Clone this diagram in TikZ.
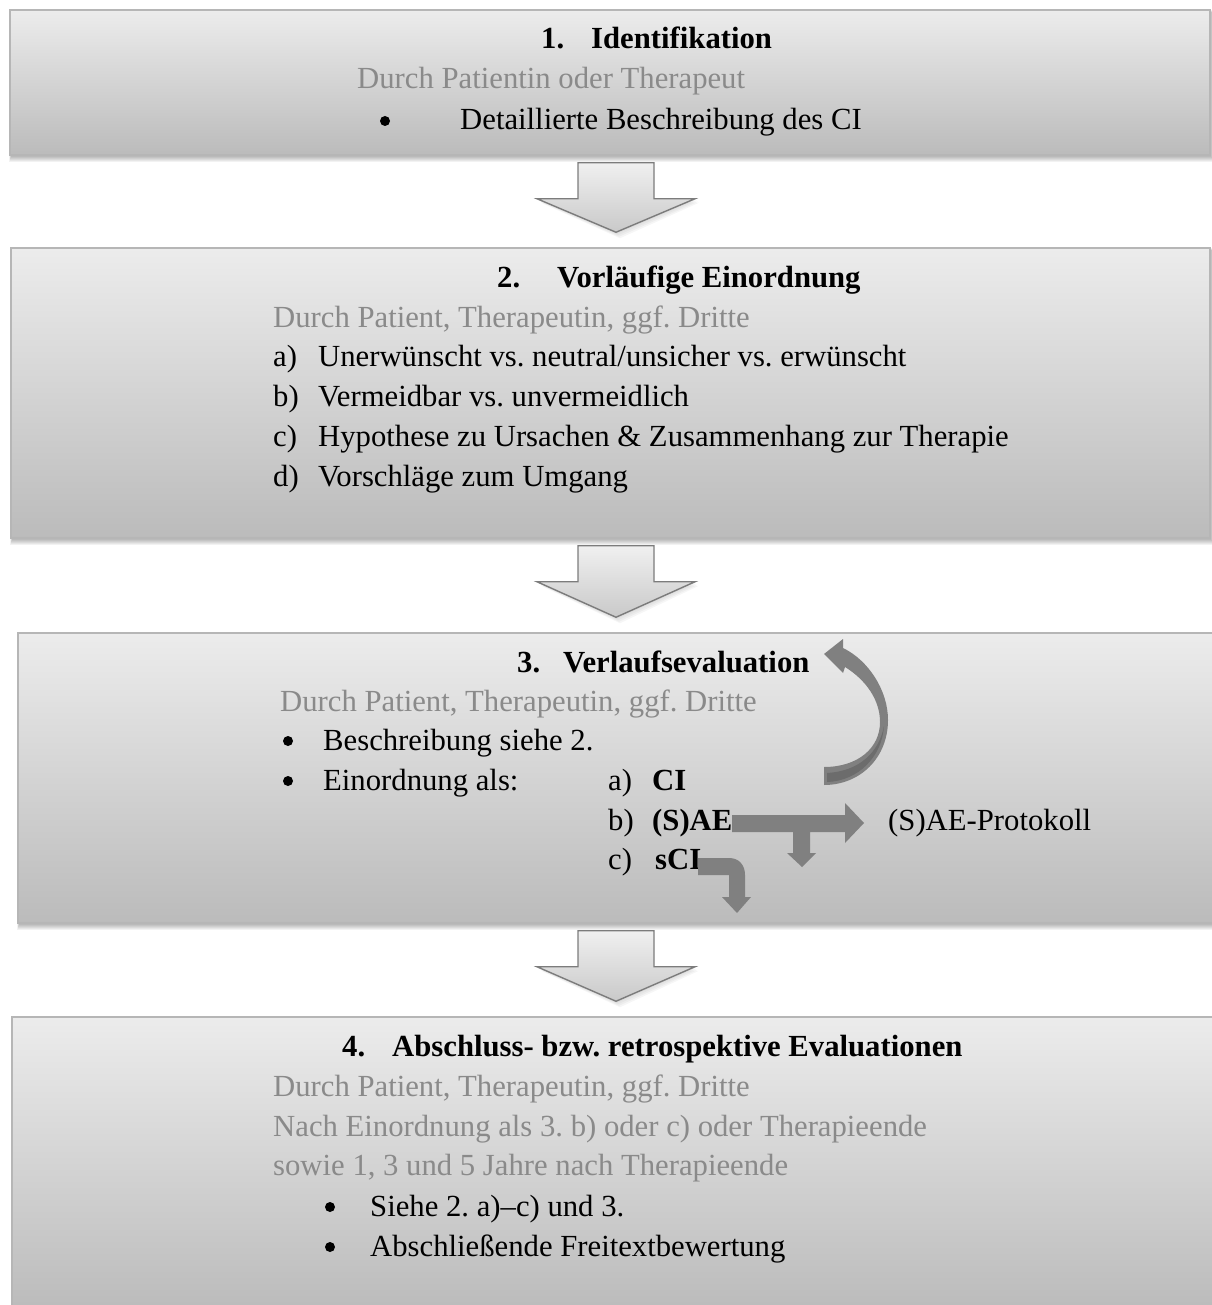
\documentclass[tikz,border=0pt]{standalone}
\usepackage{fontspec}
\setmainfont{Liberation Serif}
\usetikzlibrary{calc,backgrounds}
\frenchspacing

\definecolor{boxtop}{HTML}{ECECEC}
\definecolor{boxbot}{HTML}{BBBBBB}
\definecolor{boxline}{HTML}{B6B6B6}
\definecolor{greytext}{HTML}{8A8A8A}
\definecolor{flowfill}{HTML}{808080}
\definecolor{flowdark}{HTML}{6C6C6C}
\definecolor{stagetop}{HTML}{F0F0F0}
\definecolor{stagebot}{HTML}{C9C9C9}
\definecolor{stageline}{HTML}{7C7C7C}

% soft shadow under a stage box
\newcommand\boxshadow[1]{%
  \foreach \d in {1,...,6}{%
    \fill[black,opacity=0.05] ($(#1.north west)+(2-0.3*\d,0.5*\d)$) rectangle ($(#1.south east)+(0.45*\d,\d)$);}}

% block arrow leading from one stage box to the next
\newcommand\stagearrow[2]{%
  \path[stagearrow] let \p1=(#1.south), \p2=(#2.north) in
    (578pt,{\y1-7pt}) -- (654pt,{\y1-7pt}) -- (654pt,{\y1-43pt}) -- (695pt,{\y1-43pt})
    -- (616pt,{\y2+15pt}) -- (537pt,{\y1-43pt}) -- (578pt,{\y1-43pt}) -- cycle;
  \begin{scope}[on background layer]
  \foreach \d in {1,...,4}{%
    \fill[black,opacity=0.035] let \p1=(#1.south), \p2=(#2.north) in
      ({537pt+\d pt},{\y1-43pt-\d pt}) -- ({695pt+\d pt},{\y1-43pt-\d pt}) -- ({616pt+\d pt},{\y2+15pt-1.5*\d pt}) -- cycle;}
  \end{scope}}

\begin{document}
\begin{tikzpicture}[x=1pt,y=-1pt,
  stagebox/.style={draw=boxline, line width=1.5pt, top color=boxtop, bottom color=boxbot,
    rectangle, inner sep=0pt},
  stagearrow/.style={draw=stageline, line width=1.4pt, line join=miter,
    top color=stagetop, bottom color=stagebot},
  txt/.style={anchor=base west, inner sep=0pt, font=\fontsize{30.7}{40}\selectfont},
  title/.style={txt, font=\fontsize{30.7}{40}\selectfont\bfseries},
  grey/.style={txt, text=greytext},
  dot/.style={circle, fill=black, inner sep=0pt, minimum size=10pt},
  flow/.style={fill=flowfill, draw=none}]

\useasboundingbox (0,0) rectangle (1211,1305);

% ---- stage boxes
\node[stagebox, minimum width=1200pt, minimum height=145pt] (b1) at (610,82.5) {};
\node[stagebox, minimum width=1199pt, minimum height=290pt] (b2) at (610.5,393) {};
\node[stagebox, minimum width=1198pt, minimum height=290pt] (b3) at (617,778) {};
\node[stagebox, minimum width=1204pt, minimum height=293pt] (b4) at (614,1163.5) {};

\begin{scope}[on background layer]
  \boxshadow{b1}
  \boxshadow{b2}
  \boxshadow{b3}
  \boxshadow{b4}
\end{scope}

% ---- arrows between the stages
\stagearrow{b1}{b2}
\stagearrow{b2}{b3}
\stagearrow{b3}{b4}

% ---- stage 1
\node[title] (n1) at (541,49) {1.};
\node[title] (h1) at (591,49) {Identifikation};
\node[grey] (w1) at (357,89) {Durch Patientin oder Therapeut};
\node[dot] (d11) at (385,121) {};
\node[txt] (i11) at (460,130) {Detaillierte Beschreibung des CI};

% ---- stage 2
\node[title] (n2) at (497,288) {2.};
\node[title] (h2) at (557,288) {Vorläufige Einordnung};
\node[grey] (w2) at (273,327) {Durch Patient, Therapeutin, ggf. Dritte};
\node[txt] (k21) at (273,366) {a)};
\node[txt] (i21) at (318,366) {Unerwünscht vs. neutral/unsicher vs. erwünscht};
\node[txt] (k22) at (273,406) {b)};
\node[txt] (i22) at (318,406) {Vermeidbar vs. unvermeidlich};
\node[txt] (k23) at (273,446) {c)};
\node[txt] (i23) at (318,446) {Hypothese zu Ursachen \& Zusammenhang zur Therapie};
\node[txt] (k24) at (273,486) {d)};
\node[txt] (i24) at (318,486) {Vorschläge zum Umgang};

% ---- stage 3
\node[title] (n3) at (517,672) {3.};
\node[title] (h3) at (563,672) {Verlaufsevaluation};
\node[grey] (w3) at (280,711) {Durch Patient, Therapeutin, ggf. Dritte};
\node[dot] (d31) at (288,741) {};
\node[txt] (i31) at (323,750) {Beschreibung siehe 2.};
\node[dot] (d32) at (288,781) {};
\node[txt] (i32) at (323,790) {Einordnung als:};
\node[txt] (k31) at (608,790) {a)};
\node[title] (c31) at (652,790) {CI};
\node[txt] (k32) at (608,830) {b)};
\node[title] (c32) at (652,830) {(S)AE};
\node[txt] (k33) at (608,869) {c)};
\node[title] (c33) at (655,869) {sCI};
\node[txt] (prot) at (888,830) {(S)AE-Protokoll};

% loop back from CI to the evaluation
\fill[flowfill] (824,785) .. controls (860,785) and (888,758) .. (888,720)
  .. controls (888,690) and (868,660) .. (843,648) -- (843,639) -- (824,654) -- (843,673)
  -- (845,667) .. controls (866,680) and (880,700) .. (880,722)
  .. controls (880,748) and (858,767) .. (824,767) -- cycle;
\fill[flowdark] (827,782) .. controls (858,781) and (882,757) .. (884,726)
  .. controls (879,752) and (860,771) .. (827,773) -- cycle;

% (S)AE: to the protocol and onwards
\fill[flowfill] (732,815) -- (845,815) -- (845,803) -- (864,823) -- (845,843) -- (845,832)
  -- (810,832) -- (810,853) -- (816,853) -- (802,867) -- (787,853) -- (793,853)
  -- (793,832) -- (732,832) -- cycle;

% sCI: onwards
\fill[flowfill] (698,858) -- (729,858) .. controls (739,858) and (745,865) .. (745,875)
  -- (745,897) -- (751,897) -- (737,913) -- (722,897) -- (729,897) -- (729,875)
  -- (698,875) -- cycle;

% ---- stage 4
\node[title] (n4) at (342,1056) {4.};
\node[title] (h4) at (392,1056) {Abschluss- bzw. retrospektive Evaluationen};
\node[grey] (w41) at (273,1096) {Durch Patient, Therapeutin, ggf. Dritte};
\node[grey] (w42) at (273,1136) {Nach Einordnung als 3. b) oder c) oder Therapieende};
\node[grey] (w43) at (273,1175) {sowie 1, 3 und 5 Jahre nach Therapieende};
\node[dot] (d41) at (330,1207) {};
\node[txt] (i41) at (370,1216) {Siehe 2. a)–c) und 3.};
\node[dot] (d42) at (330,1247) {};
\node[txt] (i42) at (370,1256) {Abschließende Freitextbewertung};

\end{tikzpicture}
\end{document}
